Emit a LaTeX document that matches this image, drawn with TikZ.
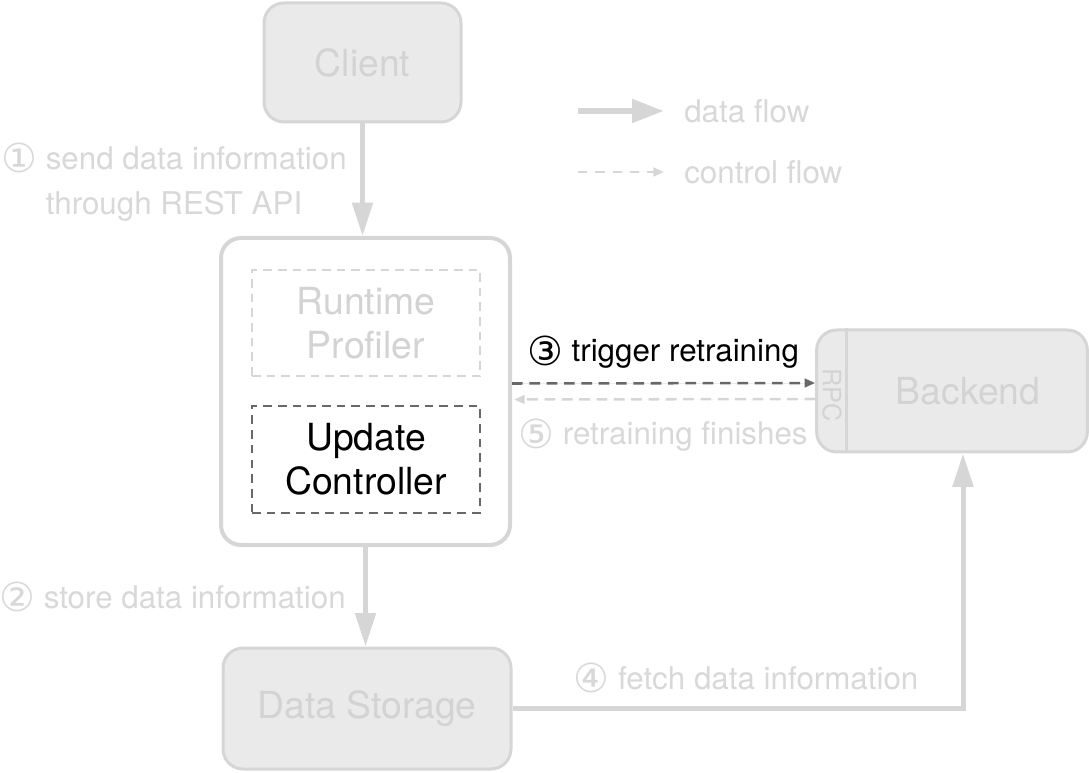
\documentclass[tikz,border=0pt]{standalone}
\usepackage{fontspec}
\setmainfont{TeX Gyre Heros}
\newfontfamily\circfont{DejaVu Sans}
\usetikzlibrary{arrows.meta,calc}
\definecolor{boxfill}{HTML}{EAEAEA}
\definecolor{boxline}{HTML}{D6D6D6}
\definecolor{boxtext}{HTML}{D3D3D3}
\definecolor{labeltext}{HTML}{D8D8D8}
\definecolor{darkdash}{HTML}{686868}
\definecolor{lightdash}{HTML}{D6D6D6}
\newcommand\cnum[1]{\raisebox{-2.5pt}{\circfont\fontsize{30}{30}\selectfont #1}}
\begin{document}
\begin{tikzpicture}[x=0.75pt,y=-0.75pt,
  comp/.style={draw=boxline, fill=boxfill, line width=2.25pt, rounded corners=15pt,
    text=boxtext, font=\fontsize{28}{33}\selectfont, align=center, inner sep=0pt},
  mainbox/.style={draw=boxline, fill=white, line width=3pt, rounded corners=15pt, inner sep=0pt},
  subbox/.style={line width=1.5pt, dash pattern=on 6.5pt off 4.5pt, align=center,
    font=\fontsize{28}{33}\selectfont, inner sep=0pt, minimum width=171pt, minimum height=80pt},
  lbl/.style={text=labeltext, font=\fontsize{23.5}{33.75}\selectfont, align=center, inner sep=0pt},
  dataflow/.style={draw=boxline, line width=3.75pt, -{Triangle[length=25pt,width=15pt]}},
  ctrlflow/.style={line width=1.9pt, dash pattern=on 8pt off 5pt, -{Triangle[length=8pt,width=6.5pt]}}
]
\useasboundingbox (0,0) rectangle (1089,773);

% components
\node[comp, minimum width=147.75pt, minimum height=89.25pt] (client) at (362.5,62.5) {Client};
\node[mainbox, minimum width=216.75pt, minimum height=230.25pt] (main) at (365.5,391.5) {};
\node[subbox, draw=lightdash, text=boxtext] (profiler) at (366,323) {Runtime\\Profiler};
\node[subbox, draw=darkdash, text=black] (updater) at (366,459.5) {Update\\Controller};
\node[comp, minimum width=203pt, minimum height=91.5pt] (backend) at (952,391) {\hspace*{24pt}Backend};
\draw[boxline, line width=2.25pt] ($(backend.north west)+(31,0)$) coordinate (rpctop) -- (rpctop |- backend.south);
\node[rotate=-90, text=boxtext, font=\fontsize{19}{19}\selectfont, inner sep=0pt] (rpc) at (832,395) {RPC};
\node[comp, minimum width=216pt, minimum height=90.75pt] (storage) at (367,708.5) {Data Storage};

% data flows
\draw[dataflow] (client.south) -- (client.south |- main.north);
\draw[dataflow] (main.south) -- (main.south |- storage.north);
\draw[dataflow] (storage.east) -| ($(backend.south)+(11,0)$);

% control flows
\draw[ctrlflow, draw=darkdash, fill=darkdash] ([yshift=6pt]main.east) -- ([yshift=6pt]backend.west);
\draw[ctrlflow, draw=lightdash, fill=lightdash] ([yshift=-6pt]backend.west) -- ([yshift=-6pt,xshift=1.5pt]main.east);

% labels
\node[lbl] (l1) at (174,182) {\cnum{①} send data information\\through REST API};
\node[lbl, anchor=east] (l2) at (346,597) {\cnum{②} store data information};
\node[lbl, text=black] (l3) at (663,352) {\cnum{③} trigger retraining};
\node[lbl] (l4) at (746,678) {\cnum{④} fetch data information};
\node[lbl] (l5) at (663,435) {\cnum{⑤} retraining finishes};

% legend
\coordinate (la1) at (578,111);
\coordinate (la2) at (664,111);
\coordinate (lb1) at (578,172);
\coordinate (lb2) at (664,172);
\draw[draw=boxline, line width=4.5pt, -{Triangle[length=24pt,width=17pt]}] (la1) -- (la2);
\draw[ctrlflow, draw=lightdash, fill=lightdash, dash pattern=on 7pt off 6pt] (lb1) -- (lb2);
\node[lbl, anchor=west] (ld) at (684,111) {data flow};
\node[lbl, anchor=west] (lc) at (684,172) {control flow};
\end{tikzpicture}
\end{document}
